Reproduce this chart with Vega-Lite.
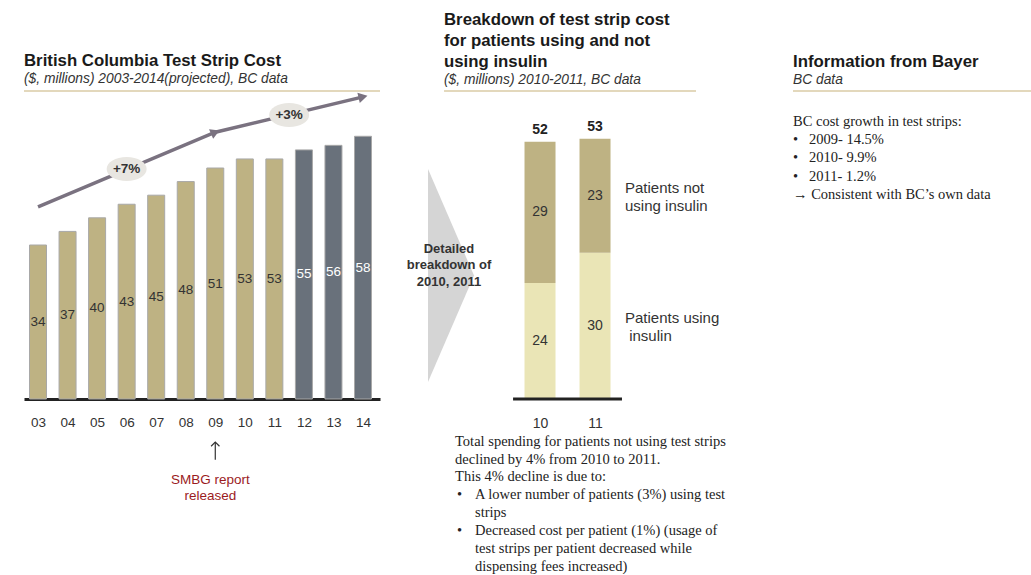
{
  "$schema": "https://vega.github.io/schema/vega-lite/v6.json",
  "background": "white",
  "padding": {"left": 23, "top": 11, "right": 0, "bottom": 0},
  "bounds": "flush",
  "spacing": 50,
  "config": {
    "view": {"stroke": null},
    "font": "Liberation Sans",
    "title": {"anchor": "start", "frame": "group", "font": "Liberation Sans", "fontSize": 16.8, "fontWeight": "bold", "color": "#1a1a1a", "subtitleFont": "Liberation Sans", "subtitleFontSize": 13.8, "subtitleFontStyle": "italic", "subtitleColor": "#333333", "offset": 4, "lineHeight": 21, "subtitlePadding": 2},
    "axis": {"labelFont": "Liberation Sans", "labelColor": "#333333", "labelOverlap": false}
  },
  "hconcat": [
    {
      "width": 356,
      "height": 308,
      "title": {"text": "British Columbia Test Strip Cost", "subtitle": "($, millions) 2003-2014(projected), BC data"},
      "layer": [
        {
          "data": {"values": [{}]},
          "mark": {"type": "rule", "color": "#C8B27A", "strokeWidth": 1.2},
          "encoding": {"y": {"datum": 68, "type": "quantitative"}}
        },
        {
          "data": {"values": [
            {"year": 3, "value": 34, "type": "actual"},
            {"year": 4, "value": 37, "type": "actual"},
            {"year": 5, "value": 40, "type": "actual"},
            {"year": 6, "value": 43, "type": "actual"},
            {"year": 7, "value": 45, "type": "actual"},
            {"year": 8, "value": 48, "type": "actual"},
            {"year": 9, "value": 51, "type": "actual"},
            {"year": 10, "value": 53, "type": "actual"},
            {"year": 11, "value": 53, "type": "actual"},
            {"year": 12, "value": 55, "type": "projected"},
            {"year": 13, "value": 56, "type": "projected"},
            {"year": 14, "value": 58, "type": "projected"}
          ]},
          "layer": [
            {
              "mark": {"type": "bar", "orient": "vertical", "size": 17, "stroke": "#a8a8a8", "strokeWidth": 1},
              "encoding": {
                "x": {"field": "year", "type": "quantitative", "scale": {"domain": [2.526, 14.575], "nice": false, "zero": false, "padding": 0},
                  "axis": {"values": [3, 4, 5, 6, 7, 8, 9, 10, 11, 12, 13, 14], "tickCount": 12, "format": "02d", "title": null, "grid": false, "ticks": false, "tickSize": 0, "domainColor": "#222222", "domainWidth": 3, "labelFontSize": 13.5, "labelPadding": 16, "labelFlush": false, "labelOverlap": false}},
                "y": {"field": "value", "type": "quantitative", "scale": {"domain": [0, 68], "nice": false, "padding": 0}, "axis": null},
                "color": {"condition": {"test": "datum.type === 'projected'", "value": "#69717B"}, "value": "#BEB283"}
              }
            },
            {
              "mark": {"type": "text", "fontSize": 13.5, "baseline": "middle"},
              "encoding": {
                "x": {"field": "year", "type": "quantitative"},
                "y": {"field": "value", "type": "quantitative", "stack": "zero", "bandPosition": 0.5},
                "detail": {"field": "type"},
                "text": {"field": "value"},
                "color": {"condition": {"test": "datum.type === 'projected'", "value": "#ffffff"}, "value": "#333333"}
              }
            }
          ]
        },
        {
          "data": {"values": [
            {"year": 3, "value": 42.4},
            {"year": 9, "value": 58.9},
            {"year": 14, "value": 66.7}
          ]},
          "layer": [
            {
              "mark": {"type": "line", "color": "#7A7280", "strokeWidth": 3.5},
              "encoding": {"x": {"field": "year", "type": "quantitative"}, "y": {"field": "value", "type": "quantitative"}}
            },
            {
              "transform": [{"filter": "datum.year === 9"}],
              "mark": {"type": "point", "shape": "triangle-right", "size": 110, "filled": true, "opacity": 1, "color": "#7A7280", "angle": 337},
              "encoding": {"x": {"field": "year", "type": "quantitative"}, "y": {"field": "value", "type": "quantitative"}}
            },
            {
              "transform": [{"filter": "datum.year === 14"}],
              "mark": {"type": "point", "shape": "triangle-right", "size": 110, "filled": true, "opacity": 1, "color": "#7A7280", "angle": 347},
              "encoding": {"x": {"field": "year", "type": "quantitative"}, "y": {"field": "value", "type": "quantitative"}}
            }
          ]
        },
        {
          "data": {"values": [
            {"year": 6, "value": 50.8, "label": "+7%"},
            {"year": 11.5, "value": 62.7, "label": "+3%"}
          ]},
          "layer": [
            {
              "mark": {"type": "point", "shape": "M -1 0 A 1 0.6 0 1 0 1 0 A 1 0.6 0 1 0 -1 0 Z", "size": 1600, "filled": true, "opacity": 1, "color": "#E8E6E1", "strokeWidth": 0},
              "encoding": {"x": {"field": "year", "type": "quantitative"}, "y": {"field": "value", "type": "quantitative"}}
            },
            {
              "mark": {"type": "text", "fontSize": 13.5, "fontWeight": "bold", "color": "#333333", "baseline": "middle"},
              "encoding": {"x": {"field": "year", "type": "quantitative"}, "y": {"field": "value", "type": "quantitative"}, "text": {"field": "label"}}
            }
          ]
        },
        {
          "data": {"values": [{}]},
          "mark": {"type": "rule", "color": "#333333", "strokeWidth": 1.2},
          "encoding": {"x": {"datum": 9, "type": "quantitative"}, "y": {"datum": -9.5, "type": "quantitative"}, "y2": {"datum": -13.4}}
        },
        {
          "data": {"values": [{}]},
          "mark": {"type": "point", "shape": "M -1 1 L 0 0 L 1 1", "size": 70, "filled": false, "opacity": 1, "color": "#333333", "strokeWidth": 1.2},
          "encoding": {"x": {"datum": 9, "type": "quantitative"}, "y": {"datum": -9.5, "type": "quantitative"}}
        },
        {
          "data": {"values": [{"note": "SMBG report\nreleased"}]},
          "mark": {"type": "text", "lineBreak": "\n", "lineHeight": 16, "fontSize": 13.5, "color": "#9B1B1E", "align": "center", "baseline": "alphabetic", "dx": -5},
          "encoding": {"x": {"datum": 9, "type": "quantitative"}, "y": {"datum": -18.66, "type": "quantitative"}, "text": {"field": "note"}}
        }
      ]
    },
    {
      "width": 313,
      "height": 308,
      "title": {"text": ["Breakdown of test strip cost", "for patients using and not", "using insulin"], "subtitle": "($, millions) 2010-2011, BC data", "dx": 14},
      "layer": [
        {
          "data": {"values": [{}]},
          "mark": {"type": "rule", "color": "#C8B27A", "strokeWidth": 1.2},
          "encoding": {"x": {"datum": 8.255, "type": "quantitative"}, "x2": {"datum": 12.836}, "y": {"datum": 62.6, "type": "quantitative"}}
        },
        {
          "data": {"values": [{}]},
          "mark": {"type": "point", "shape": "M -0.216 -1 L 0.216 0 L -0.216 1 Z", "size": 45369, "filled": true, "opacity": 1, "color": "#D5D5D5", "strokeWidth": 0},
          "encoding": {"x": {"datum": 8.382, "type": "quantitative"}, "y": {"datum": 25.1, "type": "quantitative"}}
        },
        {
          "data": {"values": [{"note": "Detailed\nbreakdown of\n2010, 2011"}]},
          "mark": {"type": "text", "lineBreak": "\n", "lineHeight": 16.5, "fontSize": 13, "fontWeight": "bold", "color": "#333333", "align": "center", "baseline": "middle"},
          "encoding": {"x": {"datum": 8.345, "type": "quantitative"}, "y": {"datum": 30.5, "type": "quantitative"}, "text": {"field": "note"}}
        },
        {
          "data": {"values": [
            {"year": 10, "group": "using", "value": 23.6, "label": "Patients using\n\u200b\u00a0insulin"},
            {"year": 10, "group": "not", "value": 28.7, "label": "Patients not\nusing insulin"},
            {"year": 11, "group": "using", "value": 29.7, "label": "Patients using\n\u200b\u00a0insulin"},
            {"year": 11, "group": "not", "value": 23.2, "label": "Patients not\nusing insulin"}
          ]},
          "layer": [
            {
              "mark": {"type": "bar", "orient": "vertical", "size": 31},
              "encoding": {
                "x": {"field": "year", "type": "quantitative", "scale": {"domain": [8, 13.69], "nice": false, "zero": false, "padding": 0},
                  "axis": {"values": [10, 11], "format": "d", "title": null, "grid": false, "ticks": false, "tickSize": 0, "domain": false, "labelFontSize": 14, "labelPadding": 17, "labelFlush": false, "labelOverlap": false}},
                "y": {"field": "value", "type": "quantitative", "stack": "zero", "scale": {"domain": [0, 62.6], "nice": false, "padding": 0}, "axis": null},
                "color": {"field": "group", "type": "nominal", "scale": {"domain": ["using", "not"], "range": ["#EAE5B6", "#BEB283"]}, "legend": null},
                "order": {"field": "group", "sort": "descending"}
              }
            },
            {
              "mark": {"type": "text", "fontSize": 14, "color": "#333333", "baseline": "middle"},
              "encoding": {
                "x": {"field": "year", "type": "quantitative"},
                "y": {"field": "value", "type": "quantitative", "stack": "zero", "bandPosition": 0.5},
                "detail": {"field": "group"},
                "order": {"field": "group", "sort": "descending"},
                "text": {"field": "value", "format": ".0f"}
              }
            },
            {
              "mark": {"type": "text", "fontSize": 14, "fontWeight": "bold", "color": "#222222", "baseline": "middle", "dy": -12},
              "encoding": {
                "x": {"field": "year", "type": "quantitative"},
                "y": {"aggregate": "sum", "field": "value", "type": "quantitative"},
                "text": {"aggregate": "sum", "field": "value", "format": ".0f"}
              }
            },
            {
              "transform": [{"filter": "datum.year === 11"}],
              "mark": {"type": "text", "fontSize": 15, "color": "#333333", "align": "left", "baseline": "middle", "dx": 30, "dy": -8, "lineBreak": "\n", "lineHeight": 18},
              "encoding": {
                "x": {"field": "year", "type": "quantitative"},
                "y": {"field": "value", "type": "quantitative", "stack": "zero", "bandPosition": 0.5},
                "detail": {"field": "group"},
                "order": {"field": "group", "sort": "descending"},
                "text": {"field": "label"}
              }
            }
          ]
        },
        {
          "data": {"values": [{}]},
          "mark": {"type": "rule", "color": "#222222", "strokeWidth": 3},
          "encoding": {"x": {"datum": 9.51, "type": "quantitative"}, "x2": {"datum": 11.49}, "y": {"datum": 0, "type": "quantitative"}}
        },
        {
          "data": {"values": [{"note": "Total spending for patients not using test strips\ndeclined by 4% from 2010 to 2011.\nThis 4% decline is due to:"}]},
          "mark": {"type": "text", "lineBreak": "\n", "lineHeight": 17.5, "font": "Liberation Serif", "fontSize": 14.5, "color": "#222222", "align": "left", "baseline": "alphabetic"},
          "encoding": {"x": {"datum": 8.455, "type": "quantitative"}, "y": {"datum": -9.65, "type": "quantitative"}, "text": {"field": "note"}}
        },
        {
          "data": {"values": [{"note": "•"}]},
          "mark": {"type": "text", "font": "Liberation Serif", "fontSize": 14.5, "color": "#222222", "align": "left", "baseline": "alphabetic", "dx": 2},
          "encoding": {"x": {"datum": 8.455, "type": "quantitative"}, "y": {"datum": -20.23, "type": "quantitative"}, "text": {"field": "note"}}
        },
        {
          "data": {"values": [{"note": "•"}]},
          "mark": {"type": "text", "font": "Liberation Serif", "fontSize": 14.5, "color": "#222222", "align": "left", "baseline": "alphabetic", "dx": 2},
          "encoding": {"x": {"datum": 8.455, "type": "quantitative"}, "y": {"datum": -27.55, "type": "quantitative"}, "text": {"field": "note"}}
        },
        {
          "data": {"values": [{"note": "A lower number of patients (3%) using test\nstrips\nDecreased cost per patient (1%) (usage of\ntest strips per patient decreased while\ndispensing fees increased)"}]},
          "mark": {"type": "text", "lineBreak": "\n", "lineHeight": 18, "font": "Liberation Serif", "fontSize": 14.5, "color": "#222222", "align": "left", "baseline": "alphabetic", "dx": 20},
          "encoding": {"x": {"datum": 8.455, "type": "quantitative"}, "y": {"datum": -20.23, "type": "quantitative"}, "text": {"field": "note"}}
        }
      ]
    },
    {
      "width": 239,
      "height": 308,
      "title": {"text": "Information from Bayer", "subtitle": "BC data"},
      "data": {"values": [{"note": "BC cost growth in test strips:\n•\u00a0\u00a0\u00a02009- 14.5%\n•\u00a0\u00a0\u00a02010- 9.9%\n•\u00a0\u00a0\u00a02011- 1.2%\n→ Consistent with BC’s own data"}]},
      "layer": [
        {
          "mark": {"type": "rule", "color": "#C8B27A", "strokeWidth": 1.2},
          "encoding": {"y": {"datum": 68, "type": "quantitative", "scale": {"domain": [0, 68], "nice": false}, "axis": null}}
        },
        {
          "mark": {"type": "text", "lineBreak": "\n", "lineHeight": 18.3, "font": "Liberation Serif", "fontSize": 14.5, "color": "#222222", "align": "left", "baseline": "alphabetic"},
          "encoding": {"x": {"datum": 0, "type": "quantitative", "scale": {"domain": [0, 1], "nice": false}, "axis": null}, "y": {"datum": 60.3, "type": "quantitative"}, "text": {"field": "note"}}
        }
      ]
    }
  ]
}
